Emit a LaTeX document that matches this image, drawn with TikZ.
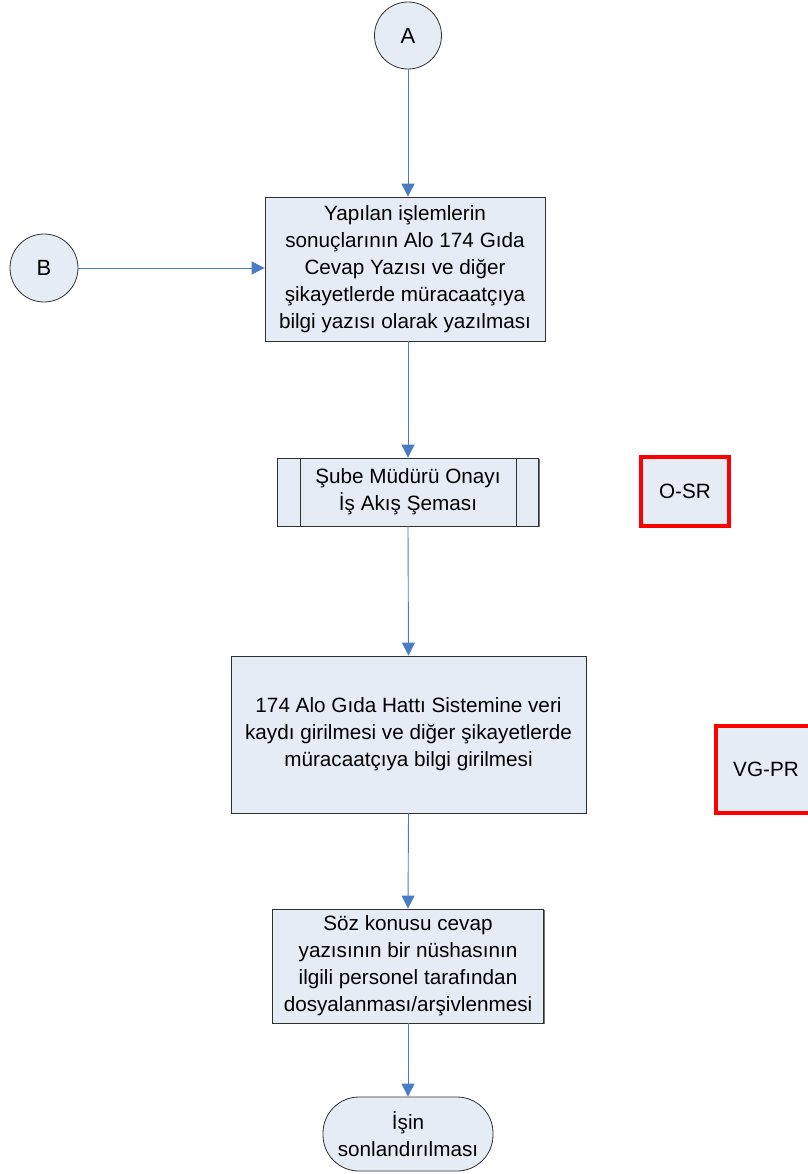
\documentclass[tikz,border=0pt]{standalone}
\usepackage{fontspec}
\setmainfont{Liberation Sans}
\usetikzlibrary{arrows.meta,shadows}
\definecolor{boxfill}{HTML}{E6ECF6}
\definecolor{arrowblue}{HTML}{4A7CC4}
\definecolor{edgegray}{HTML}{303030}
\tikzset{
  txt/.style={font=\fontsize{20.7}{27}\selectfont, align=center, text=black},
  procbox/.style={txt, draw=edgegray, line width=0.8pt, fill=boxfill, rectangle, inner sep=0pt,
     drop shadow={shadow xshift=1.2pt, shadow yshift=-1.2pt, fill=black!55, opacity=1}},
  conn/.style={txt, draw=edgegray, line width=0.8pt, fill=boxfill, circle, inner sep=0pt},
  redbox/.style={txt, draw=red, line width=3.2pt, fill=boxfill, rectangle, inner sep=0pt},
  termbox/.style={txt, draw=edgegray, line width=0.8pt, fill=boxfill, rectangle, rounded corners=36pt, inner sep=0pt},
  flow/.style={draw=arrowblue, line width=0.9pt, -{Triangle[length=13pt,width=13pt]}},
}
\begin{document}
\begin{tikzpicture}[x=1pt,y=-1pt]
\useasboundingbox (0,0) rectangle (807,1174);
\node[conn, minimum size=67pt, font=\fontsize{22}{26}\selectfont] (A) at (408,35.5) {A};
\node[conn, minimum size=68pt, font=\fontsize{22}{26}\selectfont] (B) at (44,268) {B};
\node[procbox, minimum width=280pt, minimum height=144pt] (b1) at (405,269)
  {Yapılan işlemlerin\\sonuçlarının Alo 174 Gıda\\Cevap Yazısı ve diğer\\şikayetlerde müracaatçıya\\bilgi yazısı olarak yazılması};
\node[procbox, minimum width=261pt, minimum height=68pt] (b2) at (408,492)
  {Şube Müdürü Onayı\\İş Akış Şeması};
\draw[edgegray, line width=0.8pt] ([xshift=23pt]b2.north west) -- ([xshift=23pt]b2.south west);
\draw[edgegray, line width=0.8pt] ([xshift=-23pt]b2.north east) -- ([xshift=-23pt]b2.south east);
\node[redbox, minimum width=88pt, minimum height=69pt] (osr) at (685,491.5) {O-SR};
\node[procbox, minimum width=355pt, minimum height=157pt] (b3) at (408.5,734.5)
  {174 Alo Gıda Hattı Sistemine veri\\kaydı girilmesi ve diğer şikayetlerde\\müracaatçıya bilgi girilmesi};
\node[redbox, minimum width=100pt, minimum height=87pt] (vgpr) at (766,769.5) {VG-PR};
\node[procbox, minimum width=271pt, minimum height=114pt] (b4) at (408,966)
  {Söz konusu cevap\\yazısının bir nüshasının\\ilgili personel tarafından\\dosyalanması/arşivlenmesi};
\node[termbox, minimum width=170pt, minimum height=74pt] (end) at (408,1134)
  {İşin\\sonlandırılması};
\draw[flow] (A.south) -- (A.south |- b1.north);
\draw[flow] (B.east) -- (B.east -| b1.west);
\draw[flow] (b2.north |- b1.south) -- (b2.north);
\draw[flow] (b2.south) -- (b3.north);
\draw[flow] (b3.south) -- (b4.north);
\draw[flow] (b4.south) -- (end.north);
\end{tikzpicture}
\end{document}
